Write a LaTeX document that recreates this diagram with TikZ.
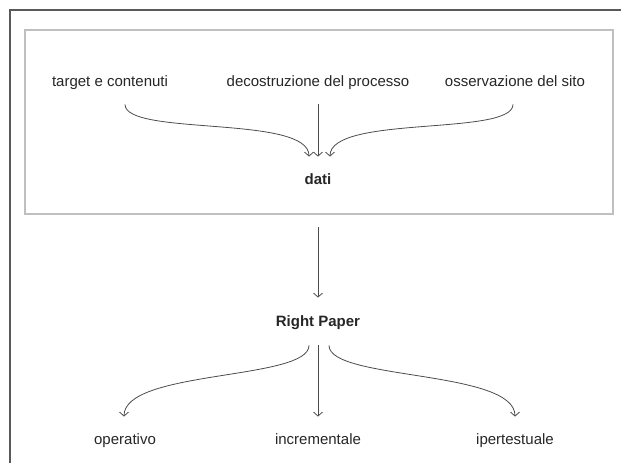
\documentclass[tikz,border=0pt]{standalone}
\usepackage{fontspec}
\setmainfont{Liberation Sans}
\usetikzlibrary{arrows.meta,calc}

\tikzset{every picture/.style={line width=0.8pt}}
\tikzset{
  lbl/.style={inner sep=0pt, text height=11pt, text depth=3pt, font=\fontsize{15}{18}\selectfont, text=black!85},
  lblbold/.style={lbl, font=\fontsize{15}{18}\selectfont\bfseries},
  arr/.style={draw=black!70, -{Straight Barb[length=4pt,width=9pt]}}
}

\begin{document}
\begin{tikzpicture}[x=1pt,y=1pt,yscale=-1]
  \useasboundingbox (0,0) rectangle (621,463);

  % frames
  \draw [draw=black!65, line width=1.3pt] (10,463) -- (10,10) -- (621,10);
  \draw [draw=black!25, line width=1.2pt] (25,30) rectangle (613,214);

  \node [lbl] (target) at (110,82) {target e contenuti};
  \node [lbl] (decostr) at (318,82) {decostruzione del processo};
  \node [lbl] (osserv) at (515,82) {osservazione del sito};
  \node [lblbold] (dati) at (318,180) {dati};
  \node [lblbold] (rp) at (318,322) {Right Paper};
  \node [lbl] (operativo) at (125,440) {operativo};
  \node [lbl] (incr) at (318,440) {incrementale};
  \node [lbl] (iper) at (515,440) {ipertestuale};

  \draw [arr] ($(target.south)+(15,15)$) .. controls +(0,32) and +(0,-42) .. ($(dati.north)+(-9,-16)$);
  \draw [arr] ($(decostr.south)+(0,15)$) -- ($(dati.north)+(0,-16)$);
  \draw [arr] ($(osserv.south)+(-2,15)$) .. controls +(0,32) and +(0,-42) .. ($(dati.north)+(12,-16)$);

  \draw [arr] ($(dati.south)+(0,40)$) -- ($(rp.north)+(0,-17)$);

  \draw [arr] ($(rp.south)+(-9,16)$) .. controls +(0,35) and +(0,-47) .. ($(operativo.north)+(-1,-16)$);
  \draw [arr] ($(rp.south)+(0,16)$) -- ($(incr.north)+(0,-16)$);
  \draw [arr] ($(rp.south)+(11,16)$) .. controls +(0,35) and +(0,-47) .. ($(iper.north)+(0,-16)$);

\end{tikzpicture}
\end{document}
